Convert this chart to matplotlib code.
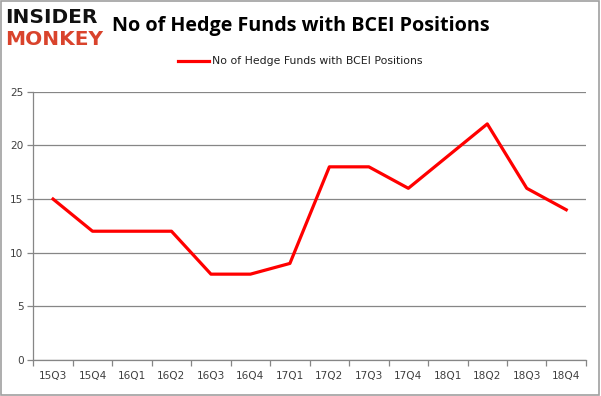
import matplotlib

matplotlib.use("Agg")
import matplotlib.pyplot as plt
from matplotlib.patches import Rectangle

quarters = ["15Q3", "15Q4", "16Q1", "16Q2", "16Q3", "16Q4", "17Q1",
            "17Q2", "17Q3", "17Q4", "18Q1", "18Q2", "18Q3", "18Q4"]
funds = [15, 12, 12, 12, 8, 8, 9, 18, 18, 16, 19, 22, 16, 14]
y_ticks = [0, 5, 10, 15, 20, 25]

GRID = "#868686"
TEXT = "#404040"

fig = plt.figure(figsize=(6.01, 3.96), dpi=100)
ax = fig.add_axes([0.0554, 0.0909, 0.9196, 0.6775])

x = list(range(len(quarters)))
ax.plot(x, funds, color="#ff0000", linewidth=2.3,
        label="No of Hedge Funds with BCEI Positions")

ax.set_xlim(-0.5, len(quarters) - 0.5)
ax.set_ylim(0, 25)
ax.set_yticks(y_ticks)
ax.yaxis.grid(True, color=GRID, linewidth=0.9)
ax.set_axisbelow(True)

# category axis: labels centred, tick marks on the boundaries
ax.set_xticks(x)
ax.set_xticklabels(quarters)
ax.set_xticks([i - 0.5 for i in range(len(quarters) + 1)], minor=True)
ax.tick_params(axis="x", which="major", length=0, pad=8, labelsize=7.6, labelcolor=TEXT)
ax.tick_params(axis="x", which="minor", length=4, color=GRID, width=0.9)
ax.tick_params(axis="y", length=4, color=GRID, width=0.9, pad=3, labelsize=7.6, labelcolor=TEXT)

for side in ("top", "right"):
    ax.spines[side].set_visible(False)
for side in ("left", "bottom"):
    ax.spines[side].set_color(GRID)
    ax.spines[side].set_linewidth(0.9)

fig.text(0.5, 0.935, "No of Hedge Funds with BCEI Positions", ha="center", va="center",
         fontsize=14.2, fontweight="bold", family="Open Sans")
ax.legend(loc="center", bbox_to_anchor=(0.5, 0.845), bbox_transform=fig.transFigure,
          frameon=False, fontsize=7.8, handlelength=2.8, handletextpad=0.3,
          labelcolor="#202020")

# logo
fig.text(0.008, 0.955, "INSIDER", ha="left", va="center", fontsize=14.5,
         fontweight="heavy", color="#111111", family="DejaVu Sans")
fig.text(0.008, 0.9, "MONKEY", ha="left", va="center", fontsize=14.5,
         fontweight="heavy", color="#d9432c", family="DejaVu Sans")

fig.patches.append(Rectangle((0.001, 0.002), 0.996, 0.995, transform=fig.transFigure,
                             fill=False, edgecolor="#a0a0a0", linewidth=1.2))

fig.savefig("out.png", dpi=100)
plt.close(fig)
